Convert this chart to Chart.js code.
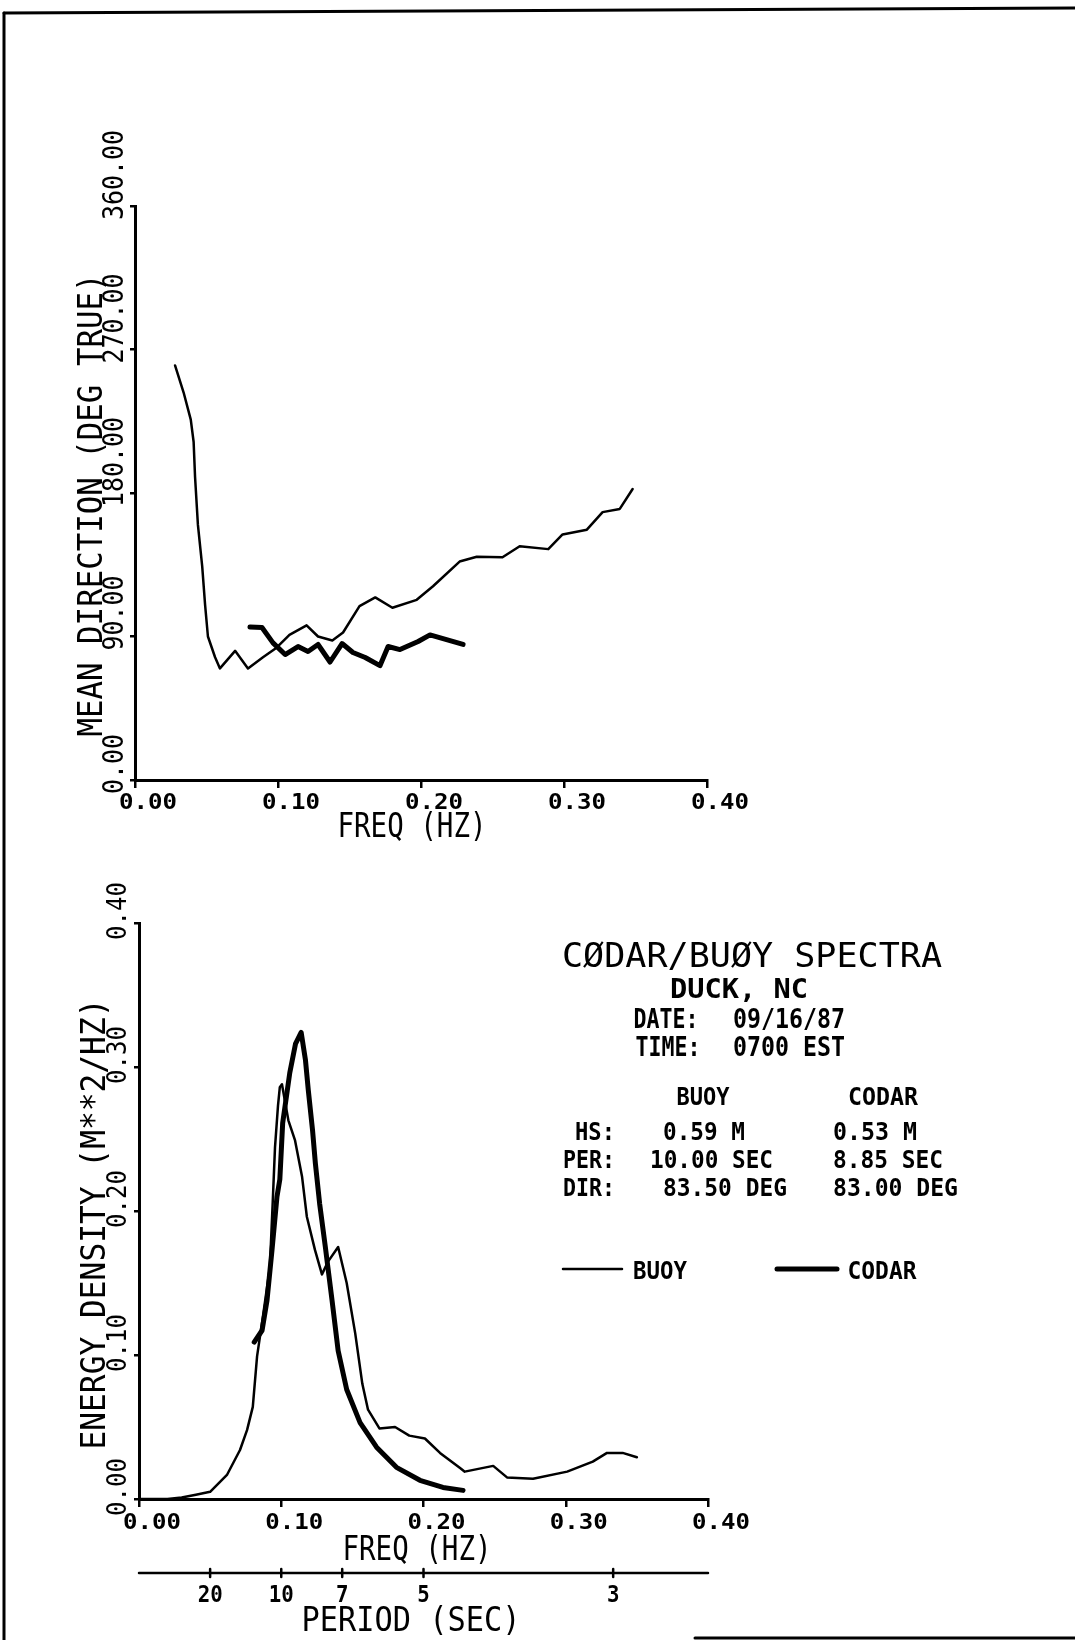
<!DOCTYPE html>
<html>
<head>
<meta charset="utf-8">
<script src="https://cdn.jsdelivr.net/npm/chart.js@4.4.0/dist/chart.umd.min.js"></script>
<style>
  html, body { margin: 0; padding: 0; background: #fff; }
  #page { position: relative; width: 1075px; height: 1640px; overflow: hidden; background: #fff; }
  #page canvas { position: absolute; left: 0; top: 0; }
</style>
</head>
<body>
<div id="page">
  <canvas id="dir" width="1075" height="1640"></canvas>
  <canvas id="spec" width="1075" height="1640"></canvas>
</div>
<script>
'use strict';

// --- mean direction (top panel) ---
const buoyDirFreq = [0.028, 0.034, 0.039, 0.041, 0.042, 0.044, 0.047, 0.049, 0.051, 0.056, 0.0594,
    0.070, 0.079, 0.0895, 0.099, 0.108, 0.120, 0.128, 0.138, 0.1455, 0.157, 0.168, 0.180, 0.197,
    0.2084, 0.227, 0.239, 0.257, 0.269, 0.289, 0.299, 0.316, 0.327, 0.339, 0.348];
const buoyDirDeg = [260, 243, 226, 212, 190, 160, 134, 110, 90, 77, 70,
    81, 70, 77, 83, 91, 97, 90, 87.5, 92.5, 109, 114.5, 108, 113,
    121.5, 137, 140, 139.7, 146.6, 144.8, 154, 157, 168, 170, 182.5];
const codarDirFreq = [0.0804, 0.0888, 0.0965, 0.105, 0.114, 0.121, 0.128, 0.1364, 0.1448, 0.1524,
    0.161, 0.1713, 0.177, 0.1853, 0.198, 0.2063, 0.2294];
const codarDirDeg = [96, 95.6, 86, 78.7, 83.7, 80.6, 85, 74, 85.6, 80,
    76.8, 71.7, 83.7, 81.8, 86.9, 91, 85];

// --- energy density (bottom panel) ---
const buoySpecFreq = [0.000, 0.020, 0.030, 0.040, 0.050, 0.062, 0.071, 0.076, 0.080, 0.083, 0.087,
    0.092, 0.094, 0.0956, 0.0977, 0.099, 0.1005, 0.105, 0.1097, 0.1146, 0.118, 0.1237, 0.1286,
    0.133, 0.140, 0.146, 0.152, 0.157, 0.161, 0.169, 0.180, 0.190, 0.201, 0.2116, 0.2257, 0.229,
    0.249, 0.2587, 0.277, 0.301, 0.319, 0.329, 0.340, 0.350];
const buoySpecE = [0.000, 0.000, 0.001, 0.003, 0.005, 0.017, 0.034, 0.048, 0.064, 0.099, 0.126,
    0.161, 0.206, 0.244, 0.273, 0.286, 0.288, 0.263, 0.249, 0.224, 0.196, 0.173, 0.156,
    0.165, 0.175, 0.150, 0.115, 0.080, 0.062, 0.049, 0.050, 0.044, 0.042, 0.032, 0.0215, 0.019,
    0.023, 0.015, 0.014, 0.019, 0.026, 0.032, 0.032, 0.029];
const codarSpecFreq = [0.081, 0.0865, 0.090, 0.0935, 0.097, 0.099, 0.101, 0.106, 0.110, 0.114,
    0.117, 0.119, 0.122, 0.124, 0.127, 0.131, 0.1357, 0.140, 0.146, 0.1554, 0.167, 0.181,
    0.1975, 0.2137, 0.2278];
const codarSpecE = [0.109, 0.117, 0.138, 0.173, 0.210, 0.222, 0.261, 0.296, 0.316, 0.324,
    0.305, 0.284, 0.256, 0.233, 0.205, 0.175, 0.138, 0.103, 0.076, 0.053, 0.036, 0.022,
    0.013, 0.008, 0.006];

// --- tick labels ---
const freqTicks = [0.0, 0.1, 0.2, 0.3, 0.4];
const freqTickLabels = ['0.00', '0.10', '0.20', '0.30', '0.40'];
const dirTicks = [0, 90, 180, 270, 360];
const dirTickLabels = ['0.00', '90.00', '180.00', '270.00', '360.00'];
const energyTicks = [0.0, 0.1, 0.2, 0.3, 0.4];
const energyTickLabels = ['0.00', '0.10', '0.20', '0.30', '0.40'];
const periodTicks = [20, 10, 7, 5, 3];

// --- text block on the right ---
const statHeads = ['BUOY', 'CODAR'];
const statRows = ['HS:', 'PER:', 'DIR:'];
const statBuoy = ['0.59 M', '10.00 SEC', '83.50 DEG'];
const statCodar = ['0.53 M', '8.85 SEC', '83.00 DEG'];

const FONT = '"DejaVu Sans Mono", "Liberation Mono", monospace';

function pairs(xs, ys) {
    return xs.map((x, i) => ({ x: x, y: ys[i] }));
}

/** text centred at (cx, cy), cap height `cap`, squeezed to `width` */
function label(ctx, text, cx, cy, cap, width, opts) {
    opts = opts || {};
    const size = cap / 0.729;
    ctx.save();
    ctx.font = (opts.bold ? 'bold ' : '') + size.toFixed(1) + 'px ' + FONT;
    ctx.fillStyle = '#000';
    ctx.textAlign = 'center';
    ctx.textBaseline = 'alphabetic';
    ctx.translate(cx, cy);
    if (opts.rotate) ctx.rotate(-Math.PI / 2);
    const w = ctx.measureText(text).width;
    ctx.scale(width ? width / w : 1, 1);
    ctx.fillText(text, 0, cap / 2);
    ctx.restore();
}

function line(ctx, x1, y1, x2, y2, lw) {
    ctx.save();
    ctx.strokeStyle = '#000';
    ctx.lineWidth = lw;
    ctx.lineCap = 'round';
    ctx.beginPath();
    ctx.moveTo(x1, y1);
    ctx.lineTo(x2, y2);
    ctx.stroke();
    ctx.restore();
}

function axisOpts(min, max, step, tickLength, horizontal) {
    return {
        type: 'linear',
        min: min,
        max: max,
        ticks: { display: false, stepSize: step },
        grid: { drawOnChartArea: false, drawTicks: true, tickLength: tickLength, color: '#000', lineWidth: 2.5 },
        border: { display: true, color: '#000', width: 3 },
        // keep the plot box exactly where the padding puts it
        afterFit: (s) => { if (horizontal) s.height = 0; else s.width = 0; },
    };
}

function seriesOpts(data, width) {
    return {
        data: data,
        borderColor: '#000',
        borderWidth: width,
        pointRadius: 0,
        tension: 0,
        fill: false,
        borderJoinStyle: 'round',
        borderCapStyle: 'round',
    };
}

// ---------- top panel: mean direction ----------
const dirText = {
    id: 'dirText',
    afterDraw(chart) {
        const ctx = chart.ctx;
        const x = chart.scales.x, y = chart.scales.y;
        const base = y.getPixelForValue(0);
        freqTicks.forEach((v, i) => {
            label(ctx, freqTickLabels[i], x.getPixelForValue(v) + 13, base + 21, 15, 58, { bold: true });
        });
        dirTicks.forEach((v, i) => {
            const t = dirTickLabels[i];
            const w = 15 * t.length;
            label(ctx, t, chart.chartArea.left - 23, y.getPixelForValue(v) + 14 - w / 2, 21, w, { rotate: true });
        });
        label(ctx, 'MEAN DIRECTION (DEG TRUE)', 90, 505, 24, 463, { rotate: true });
        label(ctx, 'FREQ (HZ)', 412, 824, 25, 149);

        // page frame
        line(ctx, 4, 13, 1075, 8, 3);
        line(ctx, 4, 13, 4, 1640, 3);
        line(ctx, 695, 1638, 1075, 1638, 3);
    },
};

new Chart(document.getElementById('dir').getContext('2d'), {
    type: 'line',
    data: {
        datasets: [
            seriesOpts(pairs(buoyDirFreq, buoyDirDeg), 2.5),
            seriesOpts(pairs(codarDirFreq, codarDirDeg), 5),
        ],
    },
    options: {
        responsive: false,
        animation: false,
        layout: { padding: { left: 135, top: 206, right: 368, bottom: 860 } },
        plugins: { legend: { display: false }, tooltip: { enabled: false } },
        scales: {
            x: axisOpts(0, 0.4, 0.1, 8, true),
            y: axisOpts(0, 360, 90, 5, false),
        },
    },
    plugins: [dirText],
});

// ---------- bottom panel: energy density ----------
const specText = {
    id: 'specText',
    afterDraw(chart) {
        const ctx = chart.ctx;
        const x = chart.scales.x, y = chart.scales.y;
        const base = y.getPixelForValue(0);
        freqTicks.forEach((v, i) => {
            label(ctx, freqTickLabels[i], x.getPixelForValue(v) + 13, base + 22, 16, 58, { bold: true });
        });
        energyTicks.forEach((v, i) => {
            const t = energyTickLabels[i];
            const w = 14.5 * t.length;
            label(ctx, t, chart.chartArea.left - 23, y.getPixelForValue(v) + 17 - w / 2, 19, w, { rotate: true });
        });
        label(ctx, 'ENERGY DENSITY (M**2/HZ)', 93, 1224, 24, 451, { rotate: true });
        label(ctx, 'FREQ (HZ)', 417, 1547, 25, 149);

        // period axis under the frequency axis, ticks at f = 1/T
        const py = 1573;
        line(ctx, x.getPixelForValue(0), py, x.getPixelForValue(0.4), py, 2.5);
        periodTicks.forEach((p) => {
            const px = x.getPixelForValue(1 / p);
            line(ctx, px, py - 4, px, py + 4, 2.5);
            label(ctx, String(p), px, 1593, 17, 12.5 * String(p).length, { bold: true });
        });
        label(ctx, 'PERIOD (SEC)', 411, 1618, 25, 219);

        // header block
        label(ctx, 'C\u00d8DAR/BU\u00d8Y SPECTRA', 752, 955, 24, 380);
        label(ctx, 'DUCK, NC', 739, 988, 19, 138, { bold: true });
        label(ctx, 'DATE:', 666, 1018, 19, 65, { bold: true });
        label(ctx, '09/16/87', 789, 1018, 19, 112, { bold: true });
        label(ctx, 'TIME:', 668, 1046, 19, 65, { bold: true });
        label(ctx, '0700 EST', 789, 1046, 19, 112, { bold: true });

        label(ctx, statHeads[0], 703, 1096, 18, 53, { bold: true });
        label(ctx, statHeads[1], 883, 1096, 18, 70, { bold: true });
        const rowY = [1131, 1159, 1187];
        const rowX = [[575, 615], [563, 615], [563, 615]];
        const buoyX = [[663, 745], [650, 773], [663, 787]];
        const codarX = [[833, 917], [833, 943], [833, 958]];
        statRows.forEach((r, i) => {
            label(ctx, r, (rowX[i][0] + rowX[i][1]) / 2, rowY[i], 18, rowX[i][1] - rowX[i][0], { bold: true });
            label(ctx, statBuoy[i], (buoyX[i][0] + buoyX[i][1]) / 2, rowY[i], 18, buoyX[i][1] - buoyX[i][0], { bold: true });
            label(ctx, statCodar[i], (codarX[i][0] + codarX[i][1]) / 2, rowY[i], 18, codarX[i][1] - codarX[i][0], { bold: true });
        });

        // legend
        const ds = chart.data.datasets;
        line(ctx, 563, 1269, 622, 1269, ds[0].borderWidth);
        label(ctx, 'BUOY', 660, 1270, 18, 54, { bold: true });
        line(ctx, 777, 1269, 837, 1269, ds[1].borderWidth);
        label(ctx, 'CODAR', 882, 1270, 18, 69, { bold: true });
    },
};

new Chart(document.getElementById('spec').getContext('2d'), {
    type: 'line',
    data: {
        datasets: [
            seriesOpts(pairs(buoySpecFreq, buoySpecE), 2.5),
            seriesOpts(pairs(codarSpecFreq, codarSpecE), 5),
        ],
    },
    options: {
        responsive: false,
        animation: false,
        layout: { padding: { left: 139, top: 923, right: 367, bottom: 141 } },
        plugins: { legend: { display: false }, tooltip: { enabled: false } },
        scales: {
            x: axisOpts(0, 0.4, 0.1, 8, true),
            y: axisOpts(0, 0.4, 0.1, 5, false),
        },
    },
    plugins: [specText],
});
</script>
</body>
</html>
